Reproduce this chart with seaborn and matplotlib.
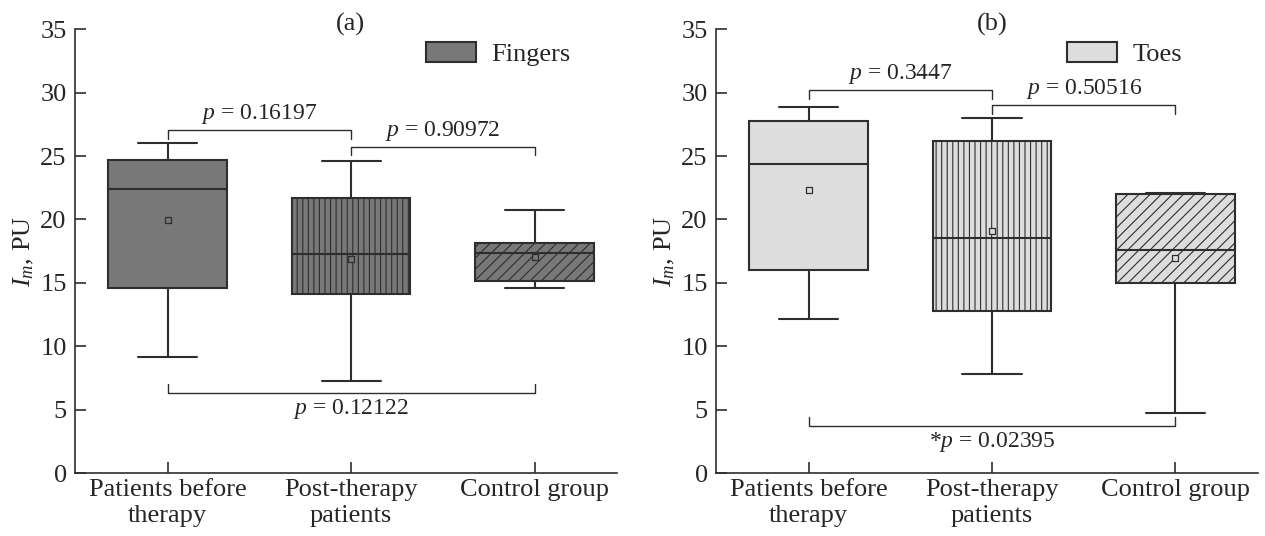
import matplotlib
matplotlib.use("Agg")
import matplotlib.pyplot as plt
from matplotlib.patches import Patch
import seaborn as sns
import pandas as pd

# categories on the x axis
groups = ["Patients before\ntherapy", "Post-therapy\npatients", "Control group"]

# fingers (panel a): whisker ends, quartiles, median, mean
fingers_low = [9.17, 7.25, 14.56]
fingers_q1 = [14.61, 14.10, 15.18]
fingers_med = [22.38, 17.26, 17.39]
fingers_q3 = [24.72, 21.70, 18.12]
fingers_high = [26.00, 24.64, 20.73]
fingers_mean = [19.95, 16.85, 17.07]

# toes (panel b)
toes_low = [12.11, 7.79, 4.72]
toes_q1 = [16.01, 12.81, 14.96]
toes_med = [24.37, 18.50, 17.61]
toes_q3 = [27.77, 26.21, 21.97]
toes_high = [28.88, 28.01, 22.08]
toes_mean = [22.30, 19.09, 16.99]

# significance brackets: (from, to, level, text, side)
fingers_pvals = [(0, 1, 27.07, "$p$ = 0.16197", "up"),
                 (1, 2, 25.75, "$p$ = 0.90972", "up"),
                 (0, 2, 6.34, "$p$ = 0.12122", "down")]
toes_pvals = [(0, 1, 30.20, "$p$ = 0.3447", "up"),
              (1, 2, 29.01, "$p$ = 0.50516", "up"),
              (0, 2, 3.72, "*$p$ = 0.02395", "down")]

hatches = ["", "|||", "///"]
edge = "#2e2e2e"

sns.set_style("ticks")
plt.rcParams["font.family"] = ["Liberation Serif", "DejaVu Serif"]
plt.rcParams["mathtext.fontset"] = "custom"
plt.rcParams["mathtext.rm"] = "Liberation Serif"
plt.rcParams["mathtext.it"] = "Liberation Serif:italic"
plt.rcParams["font.size"] = 19
plt.rcParams["hatch.linewidth"] = 0.8
plt.rcParams["hatch.color"] = edge


def five_num_frame(low, q1, med, q3, high):
    # five values per group -> quartiles land exactly on the read values
    rows = []
    for g, vals in zip(groups, zip(low, q1, med, q3, high)):
        for v in vals:
            rows.append({"group": g, "value": v})
    return pd.DataFrame(rows)


def draw_panel(ax, df, means, fill, label, tag, pvals):
    sns.boxplot(data=df, x="group", y="value", order=groups, color=fill,
                saturation=1, linecolor=edge, linewidth=1.5, width=0.645,
                whis=(0, 100), showfliers=False, ax=ax)
    for patch, h in zip(ax.patches, hatches):
        patch.set_hatch(h)
    sns.scatterplot(x=groups, y=means, marker="s", s=20, color=fill,
                    edgecolor=edge, linewidth=0.9, legend=False, zorder=5, ax=ax)

    leg = 0.7
    for i0, i1, y, txt, side in pvals:
        if side == "up":
            ax.plot([i0, i0, i1, i1], [y - leg, y, y, y - leg], color=edge, lw=1.0)
            ax.text((i0 + i1) / 2, y + 0.85, txt, ha="center", va="baseline", fontsize=17)
        else:
            ax.plot([i0, i0, i1, i1], [y + leg, y, y, y + leg], color=edge, lw=1.0)
            ax.text((i0 + i1) / 2, y - 1.7, txt, ha="center", va="baseline", fontsize=17)

    ax.set_ylim(0, 35)
    ax.set_xlim(-0.505, 2.45)
    ax.set_yticks(range(0, 36, 5))
    ax.set_xlabel("")
    ax.set_ylabel("$I_m$, PU", labelpad=3)
    sns.despine(ax=ax)
    for s in ["left", "bottom"]:
        ax.spines[s].set_color(edge)
        ax.spines[s].set_linewidth(1.2)
    ax.tick_params(axis="both", direction="in", length=8, width=1.2, color=edge)
    ax.tick_params(axis="x", pad=4.5)
    ax.tick_params(axis="y", pad=6)
    ax.text(0.509, 1.011, tag, transform=ax.transAxes, ha="center", va="center")
    ax.legend(handles=[Patch(facecolor=fill, edgecolor=edge, linewidth=1.5, label=label)],
              loc="upper left", bbox_to_anchor=(0.647, 0.972), frameon=False,
              borderpad=0, borderaxespad=0, handlelength=1.9, handleheight=0.83,
              handletextpad=0.6)


fig = plt.figure(figsize=(12.65, 5.36), dpi=100)
ax1 = fig.add_axes([0.0593, 0.1175, 0.4285, 0.828])
ax2 = fig.add_axes([0.566, 0.1175, 0.4285, 0.828])

draw_panel(ax1, five_num_frame(fingers_low, fingers_q1, fingers_med, fingers_q3, fingers_high),
           fingers_mean, "#787878", "Fingers", "(a)", fingers_pvals)
draw_panel(ax2, five_num_frame(toes_low, toes_q1, toes_med, toes_q3, toes_high),
           toes_mean, "#dcdddc", "Toes", "(b)", toes_pvals)

fig.savefig("out.png", dpi=100)
